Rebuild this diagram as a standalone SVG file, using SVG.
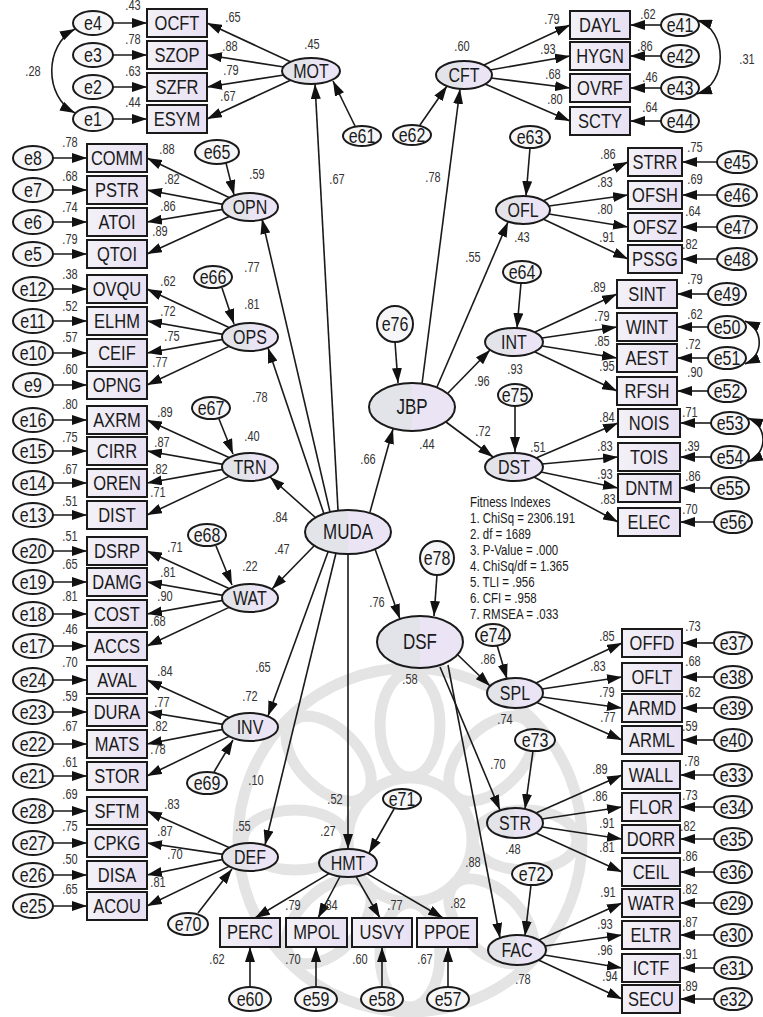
<svg xmlns="http://www.w3.org/2000/svg" width="763" height="1017" viewBox="0 0 763 1017">
<defs>
<marker id="ah" viewBox="0 0 15 10" refX="15" refY="5" markerWidth="15" markerHeight="10" markerUnits="userSpaceOnUse" orient="auto-start-reverse"><path d="M0,0 L15,5 L0,10 z" fill="#111"/></marker>
<linearGradient id="gb" x1="0" y1="0" x2="1" y2="0"><stop offset="0" stop-color="#f3f1f7"/><stop offset="1" stop-color="#e8e0f3"/></linearGradient>
<linearGradient id="gl" x1="0" y1="0" x2="1" y2="0"><stop offset="0" stop-color="#e3e3ea"/><stop offset="0.5" stop-color="#e3e3ea"/><stop offset="0.5" stop-color="#ebe4f5"/><stop offset="1" stop-color="#ebe4f5"/></linearGradient>
</defs>
<style>
.bx{fill:url(#gb);stroke:#1a1a1a;stroke-width:2}
.lt{fill:url(#gl);stroke:#1a1a1a;stroke-width:2}
.er{fill:#f6f6f8;stroke:#1a1a1a;stroke-width:2}
.a{stroke:#1a1a1a;stroke-width:1.6;fill:none;marker-end:url(#ah)}
.c{stroke:#1a1a1a;stroke-width:1.6;fill:none;marker-start:url(#ah);marker-end:url(#ah)}
.wm{fill:none;stroke:#e4e4e4;stroke-width:11}
text{font-family:"Liberation Sans",Arial,sans-serif;fill:#1a1a1a;text-anchor:middle;dominant-baseline:central;transform-box:fill-box;transform-origin:center;transform:scale(1,1.25)}
.tb{font-size:16.5px}
.tl{font-size:16px}
.tL{font-size:17px}
.te{font-size:16px}
.n{font-size:11px;fill:#333}
.f{font-size:11.5px;text-anchor:start}
</style>
<rect width="763" height="1017" fill="#fff"/>

<g id="watermark" class="wm">
<circle cx="410" cy="840" r="172"/>
<circle cx="410" cy="840" r="62"/>
<ellipse cx="410" cy="725" rx="30" ry="52"/>
<ellipse cx="410" cy="725" rx="30" ry="52" transform="rotate(45 410 840)"/>
<ellipse cx="410" cy="725" rx="30" ry="52" transform="rotate(90 410 840)"/>
<ellipse cx="410" cy="725" rx="30" ry="52" transform="rotate(135 410 840)"/>
<ellipse cx="410" cy="725" rx="30" ry="52" transform="rotate(180 410 840)"/>
<ellipse cx="410" cy="725" rx="30" ry="52" transform="rotate(225 410 840)"/>
<ellipse cx="410" cy="725" rx="30" ry="52" transform="rotate(270 410 840)"/>
<ellipse cx="410" cy="725" rx="30" ry="52" transform="rotate(315 410 840)"/>
</g>

<g id="connectors">
<line class="a" x1="113" y1="23" x2="147" y2="23"/>
<line class="a" x1="113" y1="55" x2="147" y2="55"/>
<line class="a" x1="113" y1="87" x2="147" y2="87"/>
<line class="a" x1="113" y1="119" x2="147" y2="119"/>
<line class="a" x1="291" y1="62" x2="207" y2="23"/>
<line class="a" x1="284" y1="67" x2="207" y2="55"/>
<line class="a" x1="284" y1="75" x2="207" y2="87"/>
<line class="a" x1="291" y1="80" x2="207" y2="119"/>
<path class="c" d="M75,29 C44,45 44,97 75,113"/>
<line class="a" x1="355" y1="126" x2="333" y2="81"/>
<line class="a" x1="338" y1="510" x2="315" y2="84"/>
<line class="a" x1="420" y1="125" x2="447" y2="86"/>
<line class="a" x1="422" y1="384" x2="460" y2="89"/>
<line class="a" x1="484" y1="65" x2="570" y2="25"/>
<line class="a" x1="490" y1="70" x2="570" y2="56"/>
<line class="a" x1="491" y1="78" x2="570" y2="88"/>
<line class="a" x1="485" y1="84" x2="570" y2="121"/>
<line class="a" x1="661" y1="25" x2="630" y2="25"/>
<line class="a" x1="661" y1="56" x2="630" y2="56"/>
<line class="a" x1="661" y1="88" x2="630" y2="88"/>
<line class="a" x1="661" y1="121" x2="630" y2="121"/>
<path class="c" d="M697,20 C728,30 728,84 697,94"/>
<line class="a" x1="530" y1="148" x2="526" y2="196"/>
<line class="a" x1="437" y1="387" x2="508" y2="222"/>
<line class="a" x1="543" y1="201" x2="628" y2="162"/>
<line class="a" x1="549" y1="206" x2="628" y2="195"/>
<line class="a" x1="549" y1="214" x2="628" y2="227"/>
<line class="a" x1="543" y1="219" x2="628" y2="259"/>
<line class="a" x1="717" y1="162" x2="682" y2="162"/>
<line class="a" x1="717" y1="195" x2="682" y2="195"/>
<line class="a" x1="717" y1="227" x2="682" y2="227"/>
<line class="a" x1="717" y1="259" x2="682" y2="259"/>
<line class="a" x1="521" y1="283" x2="517" y2="328"/>
<line class="a" x1="448" y1="393" x2="490" y2="350"/>
<line class="a" x1="535" y1="332" x2="617" y2="294"/>
<line class="a" x1="542" y1="338" x2="617" y2="327"/>
<line class="a" x1="542" y1="346" x2="617" y2="358"/>
<line class="a" x1="535" y1="352" x2="617" y2="391"/>
<line class="a" x1="708" y1="294" x2="677" y2="294"/>
<line class="a" x1="708" y1="327" x2="677" y2="327"/>
<line class="a" x1="708" y1="358" x2="677" y2="358"/>
<line class="a" x1="708" y1="391" x2="677" y2="391"/>
<path class="c" d="M745,321 C764,329 764,356 745,364"/>
<line class="a" x1="515" y1="406" x2="515" y2="452"/>
<line class="a" x1="446" y1="422" x2="493" y2="457"/>
<line class="a" x1="536" y1="458" x2="618" y2="423"/>
<line class="a" x1="542" y1="464" x2="618" y2="457"/>
<line class="a" x1="541" y1="472" x2="618" y2="488"/>
<line class="a" x1="534" y1="477" x2="618" y2="522"/>
<line class="a" x1="711" y1="423" x2="680" y2="423"/>
<line class="a" x1="711" y1="457" x2="680" y2="457"/>
<line class="a" x1="711" y1="488" x2="680" y2="488"/>
<line class="a" x1="714" y1="522" x2="680" y2="522"/>
<path class="c" d="M748,418 C768,426 768,453 748,462"/>
<line class="a" x1="395" y1="342" x2="398" y2="383"/>
<line class="a" x1="370" y1="512" x2="393" y2="429"/>
<line class="a" x1="226" y1="163" x2="234" y2="195"/>
<line class="a" x1="229" y1="197.5" x2="147" y2="158"/>
<line class="a" x1="223" y1="204.4" x2="147" y2="190"/>
<line class="a" x1="223" y1="209.4" x2="147" y2="222"/>
<line class="a" x1="229" y1="216.4" x2="147" y2="254"/>
<line class="a" x1="330" y1="512" x2="262" y2="219"/>
<line class="a" x1="53" y1="158" x2="87" y2="158"/>
<line class="a" x1="53" y1="190" x2="87" y2="190"/>
<line class="a" x1="53" y1="222" x2="87" y2="222"/>
<line class="a" x1="53" y1="254" x2="87" y2="254"/>
<line class="a" x1="222" y1="288" x2="234" y2="324"/>
<line class="a" x1="229" y1="327.5" x2="147" y2="289"/>
<line class="a" x1="223" y1="334.4" x2="147" y2="321"/>
<line class="a" x1="223" y1="339.4" x2="147" y2="353"/>
<line class="a" x1="229" y1="346.4" x2="147" y2="385"/>
<line class="a" x1="324" y1="514" x2="268" y2="348"/>
<line class="a" x1="53" y1="289" x2="87" y2="289"/>
<line class="a" x1="53" y1="321" x2="87" y2="321"/>
<line class="a" x1="53" y1="353" x2="87" y2="353"/>
<line class="a" x1="53" y1="385" x2="87" y2="385"/>
<line class="a" x1="219" y1="419" x2="233" y2="454"/>
<line class="a" x1="229" y1="457.5" x2="147" y2="420"/>
<line class="a" x1="223" y1="464.4" x2="147" y2="451"/>
<line class="a" x1="223" y1="469.4" x2="147" y2="483"/>
<line class="a" x1="229" y1="476.4" x2="147" y2="515"/>
<line class="a" x1="316" y1="518" x2="270" y2="477"/>
<line class="a" x1="53" y1="420" x2="87" y2="420"/>
<line class="a" x1="53" y1="451" x2="87" y2="451"/>
<line class="a" x1="53" y1="483" x2="87" y2="483"/>
<line class="a" x1="53" y1="515" x2="87" y2="515"/>
<line class="a" x1="216" y1="546" x2="232" y2="585"/>
<line class="a" x1="229" y1="588.5" x2="147" y2="551"/>
<line class="a" x1="223" y1="595.4" x2="147" y2="582"/>
<line class="a" x1="223" y1="600.4" x2="147" y2="614"/>
<line class="a" x1="229" y1="607.4" x2="147" y2="646"/>
<line class="a" x1="314" y1="546" x2="272" y2="589"/>
<line class="a" x1="53" y1="551" x2="87" y2="551"/>
<line class="a" x1="53" y1="582" x2="87" y2="582"/>
<line class="a" x1="53" y1="614" x2="87" y2="614"/>
<line class="a" x1="53" y1="646" x2="87" y2="646"/>
<line class="a" x1="214" y1="772" x2="233" y2="740"/>
<line class="a" x1="229" y1="717.5" x2="147" y2="680"/>
<line class="a" x1="223" y1="724.4" x2="147" y2="712"/>
<line class="a" x1="223" y1="729.4" x2="147" y2="744"/>
<line class="a" x1="229" y1="736.4" x2="147" y2="776"/>
<line class="a" x1="328" y1="552" x2="268" y2="716"/>
<line class="a" x1="53" y1="680" x2="87" y2="680"/>
<line class="a" x1="53" y1="712" x2="87" y2="712"/>
<line class="a" x1="53" y1="744" x2="87" y2="744"/>
<line class="a" x1="53" y1="776" x2="87" y2="776"/>
<line class="a" x1="198" y1="913" x2="232" y2="869"/>
<line class="a" x1="229" y1="847.5" x2="147" y2="811"/>
<line class="a" x1="223" y1="854.4" x2="147" y2="843"/>
<line class="a" x1="223" y1="859.4" x2="147" y2="875"/>
<line class="a" x1="229" y1="866.4" x2="147" y2="906"/>
<line class="a" x1="336" y1="553" x2="265" y2="845"/>
<line class="a" x1="53" y1="811" x2="87" y2="811"/>
<line class="a" x1="53" y1="843" x2="87" y2="843"/>
<line class="a" x1="53" y1="875" x2="87" y2="875"/>
<line class="a" x1="53" y1="906" x2="87" y2="906"/>
<line class="a" x1="348" y1="554" x2="348" y2="849"/>
<line class="a" x1="394" y1="809" x2="369" y2="853"/>
<line class="a" x1="329" y1="873.6" x2="255" y2="918"/>
<line class="a" x1="340" y1="876.5" x2="318" y2="918"/>
<line class="a" x1="356" y1="876.4" x2="380" y2="918"/>
<line class="a" x1="367" y1="873.6" x2="443" y2="918"/>
<line class="a" x1="250" y1="987" x2="250" y2="947"/>
<line class="a" x1="316" y1="987" x2="316" y2="947"/>
<line class="a" x1="382" y1="987" x2="382" y2="947"/>
<line class="a" x1="448" y1="987" x2="448" y2="947"/>
<line class="a" x1="375" y1="549" x2="400" y2="619"/>
<line class="a" x1="437" y1="575" x2="434" y2="616"/>
<line class="a" x1="458" y1="655" x2="490" y2="686"/>
<line class="a" x1="440" y1="667" x2="500" y2="810"/>
<line class="a" x1="448" y1="665" x2="500" y2="938"/>
<line class="a" x1="497" y1="645" x2="507" y2="679"/>
<line class="a" x1="536" y1="683" x2="622" y2="643"/>
<line class="a" x1="542" y1="689" x2="622" y2="677"/>
<line class="a" x1="542" y1="697" x2="622" y2="708"/>
<line class="a" x1="537" y1="702.5" x2="622" y2="740"/>
<line class="a" x1="714" y1="643" x2="682" y2="643"/>
<line class="a" x1="714" y1="677" x2="682" y2="677"/>
<line class="a" x1="714" y1="708" x2="682" y2="708"/>
<line class="a" x1="714" y1="740" x2="682" y2="740"/>
<line class="a" x1="533" y1="751" x2="525" y2="809"/>
<line class="a" x1="536" y1="813" x2="622" y2="775"/>
<line class="a" x1="542" y1="819" x2="622" y2="807"/>
<line class="a" x1="542" y1="827" x2="622" y2="839"/>
<line class="a" x1="536" y1="833" x2="622" y2="872"/>
<line class="a" x1="714" y1="775" x2="680" y2="775"/>
<line class="a" x1="714" y1="807" x2="680" y2="807"/>
<line class="a" x1="714" y1="839" x2="680" y2="839"/>
<line class="a" x1="714" y1="872" x2="680" y2="872"/>
<line class="a" x1="531" y1="885" x2="525" y2="936"/>
<line class="a" x1="539" y1="940" x2="622" y2="903"/>
<line class="a" x1="545" y1="946" x2="622" y2="935"/>
<line class="a" x1="544.5" y1="955" x2="622" y2="968"/>
<line class="a" x1="538.5" y1="960" x2="622" y2="999"/>
<line class="a" x1="714" y1="903" x2="680" y2="903"/>
<line class="a" x1="714" y1="935" x2="680" y2="935"/>
<line class="a" x1="714" y1="968" x2="680" y2="968"/>
<line class="a" x1="714" y1="999" x2="680" y2="999"/>
</g>

<g id="MUDA"><ellipse class="lt" cx="348" cy="532" rx="43" ry="22"/><text class="tL" x="348" y="532">MUDA</text></g>
<g id="JBP"><ellipse class="lt" cx="412" cy="407" rx="43" ry="24"/><text class="tL" x="412" y="407">JBP</text></g>
<g id="DSF"><ellipse class="lt" cx="420" cy="642" rx="43" ry="26"/><text class="tL" x="420" y="642">DSF</text></g>
<g id="MOT"><ellipse class="lt" cx="311" cy="71" rx="29" ry="13"/><text class="tl" x="311" y="71">MOT</text></g>
<g id="CFT"><ellipse class="lt" cx="464" cy="75" rx="28" ry="14"/><text class="tl" x="464" y="75">CFT</text></g>
<g id="OPN"><ellipse class="lt" cx="250" cy="207" rx="28" ry="14"/><text class="tl" x="250" y="207">OPN</text></g>
<g id="OPS"><ellipse class="lt" cx="250" cy="337" rx="28" ry="14"/><text class="tl" x="250" y="337">OPS</text></g>
<g id="TRN"><ellipse class="lt" cx="250" cy="467" rx="28" ry="14"/><text class="tl" x="250" y="467">TRN</text></g>
<g id="WAT"><ellipse class="lt" cx="250" cy="598" rx="28" ry="14"/><text class="tl" x="250" y="598">WAT</text></g>
<g id="INV"><ellipse class="lt" cx="250" cy="727" rx="28" ry="14"/><text class="tl" x="250" y="727">INV</text></g>
<g id="DEF"><ellipse class="lt" cx="250" cy="857" rx="28" ry="14"/><text class="tl" x="250" y="857">DEF</text></g>
<g id="HMT"><ellipse class="lt" cx="348" cy="863" rx="29" ry="14"/><text class="tl" x="348" y="863">HMT</text></g>
<g id="OFL"><ellipse class="lt" cx="523" cy="210" rx="27" ry="14"/><text class="tl" x="523" y="210">OFL</text></g>
<g id="INT"><ellipse class="lt" cx="514" cy="342" rx="29" ry="14"/><text class="tl" x="514" y="342">INT</text></g>
<g id="DST"><ellipse class="lt" cx="514" cy="467" rx="29" ry="14"/><text class="tl" x="514" y="467">DST</text></g>
<g id="SPL"><ellipse class="lt" cx="515" cy="693" rx="28" ry="15"/><text class="tl" x="515" y="693">SPL</text></g>
<g id="STR"><ellipse class="lt" cx="515" cy="823" rx="28" ry="15"/><text class="tl" x="515" y="823">STR</text></g>
<g id="FAC"><ellipse class="lt" cx="517" cy="950" rx="29" ry="15"/><text class="tl" x="517" y="950">FAC</text></g>

<g id="e61"><ellipse class="er" cx="362" cy="136" rx="19" ry="10"/><text class="te" x="362" y="136">e61</text></g>
<g id="e62"><ellipse class="er" cx="412" cy="135" rx="19" ry="10"/><text class="te" x="412" y="135">e62</text></g>
<g id="e63"><ellipse class="er" cx="530" cy="137" rx="20" ry="11"/><text class="te" x="530" y="137">e63</text></g>
<g id="e64"><ellipse class="er" cx="522" cy="272" rx="19" ry="11"/><text class="te" x="522" y="272">e64</text></g>
<g id="e75"><ellipse class="er" cx="515" cy="395" rx="17" ry="11"/><text class="te" x="515" y="395">e75</text></g>
<g id="e76"><circle class="er" cx="395" cy="324" r="18"/><text class="te" x="395" y="324">e76</text></g>
<g id="e78"><circle class="er" cx="437" cy="558" r="17"/><text class="te" x="437" y="558">e78</text></g>
<g id="e74"><ellipse class="er" cx="493" cy="635" rx="17" ry="11"/><text class="te" x="493" y="635">e74</text></g>
<g id="e73"><ellipse class="er" cx="535" cy="740" rx="20" ry="11"/><text class="te" x="535" y="740">e73</text></g>
<g id="e72"><ellipse class="er" cx="532" cy="874" rx="20" ry="11"/><text class="te" x="532" y="874">e72</text></g>
<g id="e71"><ellipse class="er" cx="402" cy="799" rx="19" ry="10"/><text class="te" x="402" y="799">e71</text></g>
<g id="e65"><ellipse class="er" cx="217" cy="152" rx="22" ry="12"/><text class="te" x="217" y="152">e65</text></g>
<g id="e66"><ellipse class="er" cx="213" cy="277" rx="19" ry="11"/><text class="te" x="213" y="277">e66</text></g>
<g id="e67"><ellipse class="er" cx="211" cy="408" rx="19" ry="11"/><text class="te" x="211" y="408">e67</text></g>
<g id="e68"><ellipse class="er" cx="207" cy="535" rx="19" ry="11"/><text class="te" x="207" y="535">e68</text></g>
<g id="e69"><ellipse class="er" cx="207" cy="783" rx="20" ry="11"/><text class="te" x="207" y="783">e69</text></g>
<g id="e70"><ellipse class="er" cx="188" cy="924" rx="20" ry="11"/><text class="te" x="188" y="924">e70</text></g>

<g id="OCFT"><rect class="bx" x="147" y="9" width="60" height="28"/><text class="tb" x="177" y="23">OCFT</text></g>
<g id="SZOP"><rect class="bx" x="147" y="41" width="60" height="28"/><text class="tb" x="177" y="55">SZOP</text></g>
<g id="SZFR"><rect class="bx" x="147" y="73" width="60" height="28"/><text class="tb" x="177" y="87">SZFR</text></g>
<g id="ESYM"><rect class="bx" x="147" y="105" width="60" height="28"/><text class="tb" x="177" y="119">ESYM</text></g>
<g id="e4"><ellipse class="er" cx="93" cy="23" rx="20" ry="12"/><text class="te" x="93" y="23">e4</text></g>
<g id="e3"><ellipse class="er" cx="93" cy="55" rx="20" ry="12"/><text class="te" x="93" y="55">e3</text></g>
<g id="e2"><ellipse class="er" cx="93" cy="87" rx="20" ry="12"/><text class="te" x="93" y="87">e2</text></g>
<g id="e1"><ellipse class="er" cx="93" cy="119" rx="20" ry="12"/><text class="te" x="93" y="119">e1</text></g>

<g id="COMM"><rect class="bx" x="87" y="144" width="60" height="28"/><text class="tb" x="117" y="158">COMM</text></g>
<g id="PSTR"><rect class="bx" x="87" y="176" width="60" height="28"/><text class="tb" x="117" y="190">PSTR</text></g>
<g id="ATOI"><rect class="bx" x="87" y="208" width="60" height="28"/><text class="tb" x="117" y="222">ATOI</text></g>
<g id="QTOI"><rect class="bx" x="87" y="240" width="60" height="28"/><text class="tb" x="117" y="254">QTOI</text></g>
<g id="OVQU"><rect class="bx" x="87" y="275" width="60" height="28"/><text class="tb" x="117" y="289">OVQU</text></g>
<g id="ELHM"><rect class="bx" x="87" y="307" width="60" height="28"/><text class="tb" x="117" y="321">ELHM</text></g>
<g id="CEIF"><rect class="bx" x="87" y="339" width="60" height="28"/><text class="tb" x="117" y="353">CEIF</text></g>
<g id="OPNG"><rect class="bx" x="87" y="371" width="60" height="28"/><text class="tb" x="117" y="385">OPNG</text></g>
<g id="AXRM"><rect class="bx" x="87" y="406" width="60" height="28"/><text class="tb" x="117" y="420">AXRM</text></g>
<g id="CIRR"><rect class="bx" x="87" y="437" width="60" height="28"/><text class="tb" x="117" y="451">CIRR</text></g>
<g id="OREN"><rect class="bx" x="87" y="469" width="60" height="28"/><text class="tb" x="117" y="483">OREN</text></g>
<g id="DIST"><rect class="bx" x="87" y="501" width="60" height="28"/><text class="tb" x="117" y="515">DIST</text></g>
<g id="DSRP"><rect class="bx" x="87" y="537" width="60" height="28"/><text class="tb" x="117" y="551">DSRP</text></g>
<g id="DAMG"><rect class="bx" x="87" y="568" width="60" height="28"/><text class="tb" x="117" y="582">DAMG</text></g>
<g id="COST"><rect class="bx" x="87" y="600" width="60" height="28"/><text class="tb" x="117" y="614">COST</text></g>
<g id="ACCS"><rect class="bx" x="87" y="632" width="60" height="28"/><text class="tb" x="117" y="646">ACCS</text></g>
<g id="AVAL"><rect class="bx" x="87" y="666" width="60" height="28"/><text class="tb" x="117" y="680">AVAL</text></g>
<g id="DURA"><rect class="bx" x="87" y="698" width="60" height="28"/><text class="tb" x="117" y="712">DURA</text></g>
<g id="MATS"><rect class="bx" x="87" y="730" width="60" height="28"/><text class="tb" x="117" y="744">MATS</text></g>
<g id="STOR"><rect class="bx" x="87" y="762" width="60" height="28"/><text class="tb" x="117" y="776">STOR</text></g>
<g id="SFTM"><rect class="bx" x="87" y="797" width="60" height="28"/><text class="tb" x="117" y="811">SFTM</text></g>
<g id="CPKG"><rect class="bx" x="87" y="829" width="60" height="28"/><text class="tb" x="117" y="843">CPKG</text></g>
<g id="DISA"><rect class="bx" x="87" y="861" width="60" height="28"/><text class="tb" x="117" y="875">DISA</text></g>
<g id="ACOU"><rect class="bx" x="87" y="892" width="60" height="28"/><text class="tb" x="117" y="906">ACOU</text></g>

<g id="e8"><ellipse class="er" cx="33" cy="158" rx="20" ry="12"/><text class="te" x="33" y="158">e8</text></g>
<g id="e7"><ellipse class="er" cx="33" cy="190" rx="20" ry="12"/><text class="te" x="33" y="190">e7</text></g>
<g id="e6"><ellipse class="er" cx="33" cy="222" rx="20" ry="12"/><text class="te" x="33" y="222">e6</text></g>
<g id="e5"><ellipse class="er" cx="33" cy="254" rx="20" ry="12"/><text class="te" x="33" y="254">e5</text></g>
<g id="e12"><ellipse class="er" cx="33" cy="289" rx="20" ry="12"/><text class="te" x="33" y="289">e12</text></g>
<g id="e11"><ellipse class="er" cx="33" cy="321" rx="20" ry="12"/><text class="te" x="33" y="321">e11</text></g>
<g id="e10"><ellipse class="er" cx="33" cy="353" rx="20" ry="12"/><text class="te" x="33" y="353">e10</text></g>
<g id="e9"><ellipse class="er" cx="33" cy="385" rx="20" ry="12"/><text class="te" x="33" y="385">e9</text></g>
<g id="e16"><ellipse class="er" cx="33" cy="420" rx="20" ry="12"/><text class="te" x="33" y="420">e16</text></g>
<g id="e15"><ellipse class="er" cx="33" cy="451" rx="20" ry="12"/><text class="te" x="33" y="451">e15</text></g>
<g id="e14"><ellipse class="er" cx="33" cy="483" rx="20" ry="12"/><text class="te" x="33" y="483">e14</text></g>
<g id="e13"><ellipse class="er" cx="33" cy="515" rx="20" ry="12"/><text class="te" x="33" y="515">e13</text></g>
<g id="e20"><ellipse class="er" cx="33" cy="551" rx="20" ry="12"/><text class="te" x="33" y="551">e20</text></g>
<g id="e19"><ellipse class="er" cx="33" cy="582" rx="20" ry="12"/><text class="te" x="33" y="582">e19</text></g>
<g id="e18"><ellipse class="er" cx="33" cy="614" rx="20" ry="12"/><text class="te" x="33" y="614">e18</text></g>
<g id="e17"><ellipse class="er" cx="33" cy="646" rx="20" ry="12"/><text class="te" x="33" y="646">e17</text></g>
<g id="e24"><ellipse class="er" cx="33" cy="680" rx="20" ry="12"/><text class="te" x="33" y="680">e24</text></g>
<g id="e23"><ellipse class="er" cx="33" cy="712" rx="20" ry="12"/><text class="te" x="33" y="712">e23</text></g>
<g id="e22"><ellipse class="er" cx="33" cy="744" rx="20" ry="12"/><text class="te" x="33" y="744">e22</text></g>
<g id="e21"><ellipse class="er" cx="33" cy="776" rx="20" ry="12"/><text class="te" x="33" y="776">e21</text></g>
<g id="e28"><ellipse class="er" cx="33" cy="811" rx="20" ry="12"/><text class="te" x="33" y="811">e28</text></g>
<g id="e27"><ellipse class="er" cx="33" cy="843" rx="20" ry="12"/><text class="te" x="33" y="843">e27</text></g>
<g id="e26"><ellipse class="er" cx="33" cy="875" rx="20" ry="12"/><text class="te" x="33" y="875">e26</text></g>
<g id="e25"><ellipse class="er" cx="33" cy="906" rx="20" ry="12"/><text class="te" x="33" y="906">e25</text></g>

<g id="PERC"><rect class="bx" x="220" y="918" width="60" height="29"/><text class="tb" x="250" y="932">PERC</text></g>
<g id="MPOL"><rect class="bx" x="286" y="918" width="61" height="29"/><text class="tb" x="316.5" y="932">MPOL</text></g>
<g id="USVY"><rect class="bx" x="352" y="918" width="60" height="29"/><text class="tb" x="382" y="932">USVY</text></g>
<g id="PPOE"><rect class="bx" x="417" y="918" width="60" height="29"/><text class="tb" x="447" y="932">PPOE</text></g>
<g id="e60"><ellipse class="er" cx="250" cy="999" rx="21" ry="12"/><text class="te" x="250" y="999">e60</text></g>
<g id="e59"><ellipse class="er" cx="316" cy="999" rx="21" ry="12"/><text class="te" x="316" y="999">e59</text></g>
<g id="e58"><ellipse class="er" cx="382" cy="999" rx="21" ry="12"/><text class="te" x="382" y="999">e58</text></g>
<g id="e57"><ellipse class="er" cx="448" cy="999" rx="21" ry="12"/><text class="te" x="448" y="999">e57</text></g>

<g id="DAYL"><rect class="bx" x="570" y="11" width="60" height="28"/><text class="tb" x="600" y="25">DAYL</text></g>
<g id="HYGN"><rect class="bx" x="570" y="42" width="60" height="28"/><text class="tb" x="600" y="56">HYGN</text></g>
<g id="OVRF"><rect class="bx" x="570" y="74" width="60" height="28"/><text class="tb" x="600" y="88">OVRF</text></g>
<g id="SCTY"><rect class="bx" x="570" y="107" width="60" height="28"/><text class="tb" x="600" y="121">SCTY</text></g>
<g id="e41"><ellipse class="er" cx="680" cy="25" rx="19" ry="11"/><text class="te" x="680" y="25">e41</text></g>
<g id="e42"><ellipse class="er" cx="680" cy="56" rx="19" ry="11"/><text class="te" x="680" y="56">e42</text></g>
<g id="e43"><ellipse class="er" cx="680" cy="88" rx="19" ry="11"/><text class="te" x="680" y="88">e43</text></g>
<g id="e44"><ellipse class="er" cx="680" cy="121" rx="19" ry="11"/><text class="te" x="680" y="121">e44</text></g>

<g id="STRR"><rect class="bx" x="628" y="148" width="54" height="28"/><text class="tb" x="655" y="162">STRR</text></g>
<g id="OFSH"><rect class="bx" x="628" y="181" width="54" height="28"/><text class="tb" x="655" y="195">OFSH</text></g>
<g id="OFSZ"><rect class="bx" x="628" y="213" width="54" height="28"/><text class="tb" x="655" y="227">OFSZ</text></g>
<g id="PSSG"><rect class="bx" x="628" y="245" width="54" height="28"/><text class="tb" x="655" y="259">PSSG</text></g>
<g id="e45"><ellipse class="er" cx="737" cy="162" rx="20" ry="11"/><text class="te" x="737" y="162">e45</text></g>
<g id="e46"><ellipse class="er" cx="737" cy="195" rx="20" ry="11"/><text class="te" x="737" y="195">e46</text></g>
<g id="e47"><ellipse class="er" cx="737" cy="227" rx="20" ry="11"/><text class="te" x="737" y="227">e47</text></g>
<g id="e48"><ellipse class="er" cx="737" cy="259" rx="20" ry="11"/><text class="te" x="737" y="259">e48</text></g>

<g id="SINT"><rect class="bx" x="617" y="280" width="60" height="28"/><text class="tb" x="647" y="294">SINT</text></g>
<g id="WINT"><rect class="bx" x="617" y="313" width="60" height="28"/><text class="tb" x="647" y="327">WINT</text></g>
<g id="AEST"><rect class="bx" x="617" y="344" width="60" height="28"/><text class="tb" x="647" y="358">AEST</text></g>
<g id="RFSH"><rect class="bx" x="617" y="377" width="60" height="28"/><text class="tb" x="647" y="391">RFSH</text></g>
<g id="e49"><ellipse class="er" cx="727" cy="294" rx="19" ry="11"/><text class="te" x="727" y="294">e49</text></g>
<g id="e50"><ellipse class="er" cx="727" cy="327" rx="19" ry="11"/><text class="te" x="727" y="327">e50</text></g>
<g id="e51"><ellipse class="er" cx="727" cy="358" rx="19" ry="11"/><text class="te" x="727" y="358">e51</text></g>
<g id="e52"><ellipse class="er" cx="727" cy="391" rx="19" ry="11"/><text class="te" x="727" y="391">e52</text></g>

<g id="NOIS"><rect class="bx" x="618" y="409" width="62" height="28"/><text class="tb" x="649" y="423">NOIS</text></g>
<g id="TOIS"><rect class="bx" x="618" y="443" width="62" height="28"/><text class="tb" x="649" y="457">TOIS</text></g>
<g id="DNTM"><rect class="bx" x="618" y="474" width="62" height="28"/><text class="tb" x="649" y="488">DNTM</text></g>
<g id="ELEC"><rect class="bx" x="618" y="508" width="62" height="28"/><text class="tb" x="649" y="522">ELEC</text></g>
<g id="e53"><ellipse class="er" cx="730" cy="423" rx="19" ry="11"/><text class="te" x="730" y="423">e53</text></g>
<g id="e54"><ellipse class="er" cx="730" cy="457" rx="19" ry="11"/><text class="te" x="730" y="457">e54</text></g>
<g id="e55"><ellipse class="er" cx="730" cy="488" rx="19" ry="11"/><text class="te" x="730" y="488">e55</text></g>
<g id="e56"><ellipse class="er" cx="733" cy="522" rx="19" ry="11"/><text class="te" x="733" y="522">e56</text></g>

<g id="OFFD"><rect class="bx" x="622" y="629" width="60" height="28"/><text class="tb" x="652" y="643">OFFD</text></g>
<g id="OFLT"><rect class="bx" x="622" y="663" width="60" height="28"/><text class="tb" x="652" y="677">OFLT</text></g>
<g id="ARMD"><rect class="bx" x="622" y="694" width="60" height="28"/><text class="tb" x="652" y="708">ARMD</text></g>
<g id="ARML"><rect class="bx" x="622" y="726" width="60" height="28"/><text class="tb" x="652" y="740">ARML</text></g>
<g id="e37"><ellipse class="er" cx="733" cy="643" rx="19" ry="11"/><text class="te" x="733" y="643">e37</text></g>
<g id="e38"><ellipse class="er" cx="733" cy="677" rx="19" ry="11"/><text class="te" x="733" y="677">e38</text></g>
<g id="e39"><ellipse class="er" cx="733" cy="708" rx="19" ry="11"/><text class="te" x="733" y="708">e39</text></g>
<g id="e40"><ellipse class="er" cx="733" cy="740" rx="19" ry="11"/><text class="te" x="733" y="740">e40</text></g>

<g id="WALL"><rect class="bx" x="622" y="761" width="58" height="28"/><text class="tb" x="651" y="775">WALL</text></g>
<g id="FLOR"><rect class="bx" x="622" y="793" width="58" height="28"/><text class="tb" x="651" y="807">FLOR</text></g>
<g id="DORR"><rect class="bx" x="622" y="825" width="58" height="28"/><text class="tb" x="651" y="839">DORR</text></g>
<g id="CEIL"><rect class="bx" x="622" y="858" width="58" height="28"/><text class="tb" x="651" y="872">CEIL</text></g>
<g id="WATR"><rect class="bx" x="622" y="889" width="58" height="28"/><text class="tb" x="651" y="903">WATR</text></g>
<g id="ELTR"><rect class="bx" x="622" y="921" width="58" height="28"/><text class="tb" x="651" y="935">ELTR</text></g>
<g id="ICTF"><rect class="bx" x="622" y="954" width="58" height="28"/><text class="tb" x="651" y="968">ICTF</text></g>
<g id="SECU"><rect class="bx" x="622" y="985" width="58" height="28"/><text class="tb" x="651" y="999">SECU</text></g>
<g id="e33"><ellipse class="er" cx="733" cy="775" rx="19" ry="11"/><text class="te" x="733" y="775">e33</text></g>
<g id="e34"><ellipse class="er" cx="733" cy="807" rx="19" ry="11"/><text class="te" x="733" y="807">e34</text></g>
<g id="e35"><ellipse class="er" cx="733" cy="839" rx="19" ry="11"/><text class="te" x="733" y="839">e35</text></g>
<g id="e36"><ellipse class="er" cx="733" cy="872" rx="19" ry="11"/><text class="te" x="733" y="872">e36</text></g>
<g id="e29"><ellipse class="er" cx="733" cy="903" rx="19" ry="11"/><text class="te" x="733" y="903">e29</text></g>
<g id="e30"><ellipse class="er" cx="733" cy="935" rx="19" ry="11"/><text class="te" x="733" y="935">e30</text></g>
<g id="e31"><ellipse class="er" cx="733" cy="968" rx="19" ry="11"/><text class="te" x="733" y="968">e31</text></g>
<g id="e32"><ellipse class="er" cx="733" cy="999" rx="19" ry="11"/><text class="te" x="733" y="999">e32</text></g>

<g id="fit">
<text class="f" x="470" y="502">Fitness Indexes</text>
<text class="f" x="470" y="518">1. ChiSq = 2306.191</text>
<text class="f" x="470" y="534">2. df = 1689</text>
<text class="f" x="470" y="550">3. P-Value = .000</text>
<text class="f" x="470" y="566">4. ChiSq/df = 1.365</text>
<text class="f" x="470" y="582">5. TLI = .956</text>
<text class="f" x="470" y="598">6. CFI = .958</text>
<text class="f" x="470" y="614">7. RMSEA = .033</text>
</g>

<g id="labels">
<text class="n" x="133" y="6">.43</text><text class="n" x="133" y="40">.78</text><text class="n" x="133" y="72">.63</text><text class="n" x="133" y="103">.44</text>
<text class="n" x="233" y="18">.65</text><text class="n" x="230" y="47">.88</text><text class="n" x="231" y="71">.79</text><text class="n" x="228" y="97">.67</text>
<text class="n" x="33" y="72">.28</text>
<text class="n" x="312" y="45">.45</text><text class="n" x="337" y="180">.67</text><text class="n" x="433" y="178">.78</text>
<text class="n" x="462" y="47">.60</text>
<text class="n" x="552" y="20">.79</text><text class="n" x="548" y="50">.93</text><text class="n" x="553" y="75">.68</text><text class="n" x="555" y="100">.80</text>
<text class="n" x="648" y="15">.62</text><text class="n" x="645" y="47">.86</text><text class="n" x="650" y="78">.46</text><text class="n" x="650" y="108">.64</text>
<text class="n" x="747" y="60">.31</text>
<text class="n" x="608" y="155">.86</text><text class="n" x="605" y="183">.83</text><text class="n" x="605" y="210">.80</text><text class="n" x="607" y="238">.91</text>
<text class="n" x="695" y="148">.75</text><text class="n" x="695" y="180">.69</text><text class="n" x="693" y="212">.64</text><text class="n" x="690" y="245">.82</text>
<text class="n" x="522" y="238">.43</text><text class="n" x="473" y="258">.55</text>
<text class="n" x="598" y="288">.89</text><text class="n" x="602" y="317">.79</text><text class="n" x="602" y="342">.85</text><text class="n" x="607" y="367">.95</text>
<text class="n" x="695" y="280">.79</text><text class="n" x="695" y="315">.62</text><text class="n" x="693" y="345">.72</text><text class="n" x="695" y="373">.90</text>
<text class="n" x="515" y="370">.93</text><text class="n" x="482" y="382">.96</text><text class="n" x="483" y="432">.72</text>
<text class="n" x="607" y="418">.84</text><text class="n" x="605" y="447">.83</text><text class="n" x="605" y="475">.93</text><text class="n" x="608" y="500">.83</text>
<text class="n" x="690" y="413">.71</text><text class="n" x="692" y="447">.39</text><text class="n" x="693" y="477">.86</text><text class="n" x="690" y="510">.70</text>
<text class="n" x="538" y="448">.51</text>
<text class="n" x="427" y="445">.44</text><text class="n" x="368" y="460">.66</text>
<text class="n" x="70" y="143">.78</text><text class="n" x="70" y="177">.68</text><text class="n" x="70" y="208">.74</text><text class="n" x="70" y="240">.79</text>
<text class="n" x="167" y="150">.88</text><text class="n" x="172" y="180">.82</text><text class="n" x="168" y="207">.86</text><text class="n" x="160" y="232">.89</text>
<text class="n" x="257" y="175">.59</text><text class="n" x="252" y="268">.77</text><text class="n" x="252" y="305">.81</text><text class="n" x="260" y="398">.78</text><text class="n" x="252" y="437">.40</text>
<text class="n" x="70" y="275">.38</text><text class="n" x="70" y="307">.52</text><text class="n" x="70" y="338">.57</text><text class="n" x="70" y="370">.60</text>
<text class="n" x="168" y="282">.62</text><text class="n" x="168" y="312">.72</text><text class="n" x="172" y="337">.75</text><text class="n" x="160" y="363">.77</text>
<text class="n" x="70" y="405">.80</text><text class="n" x="70" y="438">.75</text><text class="n" x="70" y="470">.67</text><text class="n" x="70" y="502">.51</text>
<text class="n" x="165" y="413">.89</text><text class="n" x="162" y="443">.87</text><text class="n" x="160" y="470">.82</text><text class="n" x="158" y="493">.71</text>
<text class="n" x="70" y="537">.51</text><text class="n" x="70" y="565">.65</text><text class="n" x="70" y="597">.81</text><text class="n" x="70" y="630">.46</text>
<text class="n" x="175" y="548">.71</text><text class="n" x="168" y="573">.81</text><text class="n" x="165" y="597">.90</text><text class="n" x="158" y="622">.68</text>
<text class="n" x="250" y="567">.22</text><text class="n" x="280" y="518">.84</text><text class="n" x="282" y="550">.47</text>
<text class="n" x="70" y="663">.70</text><text class="n" x="70" y="697">.59</text><text class="n" x="70" y="727">.67</text><text class="n" x="70" y="763">.61</text>
<text class="n" x="165" y="672">.84</text><text class="n" x="162" y="703">.77</text><text class="n" x="160" y="727">.82</text><text class="n" x="158" y="750">.78</text>
<text class="n" x="250" y="697">.72</text><text class="n" x="263" y="668">.65</text>
<text class="n" x="70" y="795">.69</text><text class="n" x="70" y="827">.75</text><text class="n" x="70" y="860">.50</text><text class="n" x="70" y="890">.65</text>
<text class="n" x="172" y="805">.83</text><text class="n" x="165" y="832">.87</text><text class="n" x="175" y="855">.70</text><text class="n" x="158" y="883">.81</text>
<text class="n" x="256" y="781">.10</text><text class="n" x="243" y="827">.55</text>
<text class="n" x="335" y="800">.52</text><text class="n" x="328" y="832">.27</text>
<text class="n" x="293" y="906">.79</text><text class="n" x="330" y="906">.84</text><text class="n" x="395" y="906">.77</text><text class="n" x="458" y="904">.82</text>
<text class="n" x="217" y="960">.62</text><text class="n" x="293" y="960">.70</text><text class="n" x="360" y="960">.60</text><text class="n" x="425" y="960">.67</text>
<text class="n" x="377" y="603">.76</text><text class="n" x="410" y="680">.58</text><text class="n" x="488" y="660">.86</text><text class="n" x="498" y="765">.70</text><text class="n" x="473" y="863">.88</text>
<text class="n" x="505" y="720">.74</text>
<text class="n" x="607" y="637">.85</text><text class="n" x="598" y="667">.83</text><text class="n" x="607" y="693">.79</text><text class="n" x="608" y="718">.77</text>
<text class="n" x="693" y="627">.73</text><text class="n" x="693" y="662">.68</text><text class="n" x="693" y="693">.62</text><text class="n" x="690" y="727">.59</text>
<text class="n" x="513" y="850">.48</text>
<text class="n" x="600" y="770">.89</text><text class="n" x="600" y="797">.86</text><text class="n" x="607" y="824">.91</text><text class="n" x="607" y="848">.81</text>
<text class="n" x="692" y="762">.78</text><text class="n" x="690" y="796">.73</text><text class="n" x="688" y="827">.82</text><text class="n" x="690" y="857">.86</text>
<text class="n" x="523" y="980">.78</text>
<text class="n" x="608" y="893">.91</text><text class="n" x="605" y="925">.93</text><text class="n" x="605" y="951">.96</text><text class="n" x="610" y="977">.94</text>
<text class="n" x="690" y="890">.82</text><text class="n" x="690" y="923">.87</text><text class="n" x="690" y="955">.91</text><text class="n" x="690" y="987">.89</text>
</g>
</svg>
